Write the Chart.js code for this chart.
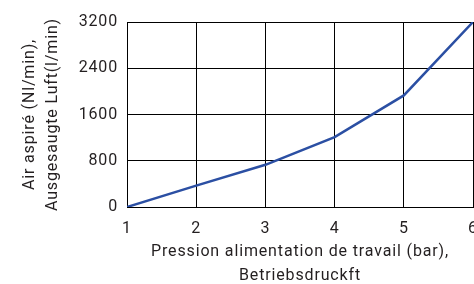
<!DOCTYPE html>
<html>
<head>
<meta charset="utf-8">
<script src="https://cdn.jsdelivr.net/npm/chart.js@4/dist/chart.umd.min.js"></script>
<style>
  html, body { margin: 0; padding: 0; background: #fff; overflow: hidden; }
  #wrap { width: 490px; height: 284px; }
</style>
</head>
<body>
<div id="wrap"><canvas id="airChart" width="490" height="284"></canvas></div>
<script>
// pression (bar) -> air aspiré (Nl/min)
const pressure = [1, 2, 3, 4, 5, 6];
const airFlow = [0, 370, 730, 1210, 1930, 3200];
const yTicks = [0, 800, 1600, 2400, 3200];
const xTitle = ['Pression alimentation de travail (bar),', 'Betriebsdruckft'];
const yTitle = ['Air aspiré (Nl/min),', 'Ausgesaugte Luft(l/min)'];

const textColor = '#231f20';
const font = { family: 'Roboto', size: 16 };

// the original uses a wider DIN-like face, so open the letters a bit
const spacing = {
    id: 'spacing',
    beforeLayout(chart) { chart.ctx.letterSpacing = '0.85px'; },
    beforeDraw(chart) { chart.ctx.letterSpacing = '0.85px'; }
};

new Chart(document.getElementById('airChart'), {
    type: 'line',
    data: {
        datasets: [{
            data: pressure.map((p, i) => ({ x: p, y: airFlow[i] })),
            borderColor: '#2b4fa3',
            borderWidth: 2.5,
            pointRadius: 0,
            tension: 0,
            fill: false
        }]
    },
    options: {
        responsive: false,
        animation: false,
        layout: { padding: { top: 22, right: 17, left: 0, bottom: 0 } },
        plugins: {
            legend: { display: false },
            tooltip: { enabled: false }
        },
        scales: {
            x: {
                type: 'linear',
                min: 1,
                max: 6,
                ticks: { stepSize: 1, color: textColor, font: font, padding: 12, maxRotation: 0 },
                grid: { color: '#000', lineWidth: 1, drawTicks: false },
                border: { color: '#000', width: 1 },
                title: { display: true, text: xTitle, color: textColor, font: { ...font, lineHeight: 1.5 }, padding: { top: 10, bottom: -4 } },
                afterFit(scale) { scale.height = 77; }
            },
            y: {
                type: 'linear',
                min: 0,
                max: 3200,
                afterBuildTicks(scale) { scale.ticks = yTicks.map(v => ({ value: v })); },
                ticks: { color: textColor, font: font, padding: 9, callback: v => String(v) },
                grid: { color: '#000', lineWidth: 1, drawTicks: false },
                border: { color: '#000', width: 1 },
                title: { display: true, text: yTitle, color: textColor, font: { ...font, lineHeight: 1.4 }, padding: { top: 19, bottom: 0 } },
                afterFit(scale) { scale.width = 127; }
            }
        }
    },
    plugins: [spacing]
});
</script>
</body>
</html>
